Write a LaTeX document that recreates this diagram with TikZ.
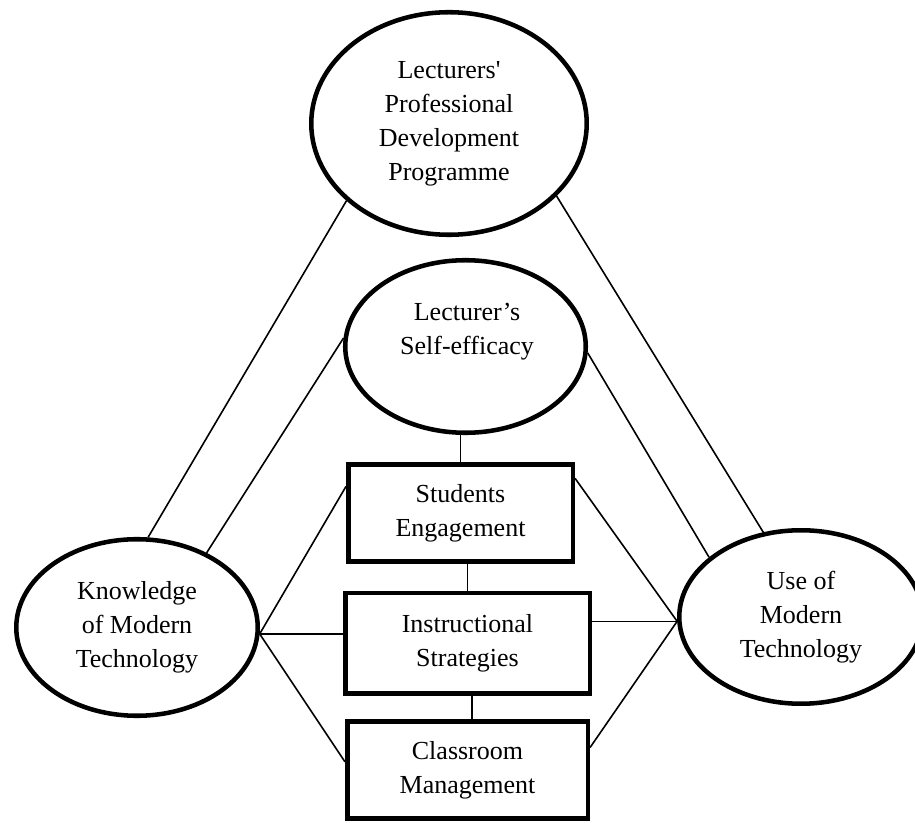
\documentclass[tikz,border=0pt]{standalone}
\usepackage{fontspec}
\setmainfont{Liberation Serif}
\usetikzlibrary{shapes.geometric,calc}
\begin{document}
\begin{tikzpicture}[x=0.75pt,y=-0.75pt,
  thickline/.style={line width=3.4pt},
  ell/.style={ellipse,draw,thickline,inner sep=0pt,align=center,
    font=\fontsize{19.5pt}{25.5pt}\selectfont},
  boxn/.style={rectangle,draw,thickline,inner sep=0pt,align=center,
    font=\fontsize{19.5pt}{25.5pt}\selectfont},
  txt/.style={inner sep=0pt,align=center,font=\fontsize{19.5pt}{25.5pt}\selectfont},
  conn/.style={line width=1.2pt}]
\useasboundingbox (0,0) rectangle (915,823);
\fill[white] (0,0) rectangle (915,823);
% ellipses
\node[ell,minimum width=206.6pt,minimum height=166.9pt] (T) at (449,123.5)
  {Lecturers\textquotesingle\\Professional\\Development\\Programme};
\node[ell,minimum width=180.4pt,minimum height=129.4pt] (S) at (465.5,346.5) {};
\node[txt] (Stxt) at (467,332) {Lecturer’s\\Self-efficacy};
\node[ell,minimum width=181.1pt,minimum height=132.4pt] (K) at (137,627.5)
  {Knowledge\\of Modern\\Technology};
\node[ell,minimum width=182.6pt,minimum height=130.1pt] (U) at (801,617)
  {Use of\\Modern\\Technology};
% boxes
\node[boxn,minimum width=168.4pt,minimum height=73.1pt] (seb) at (460.5,513)
  {Students\\Engagement};
\node[boxn,minimum width=183.4pt,minimum height=75.4pt] (isb) at (467.5,643.5)
  {Instructional\\Strategies};
\node[boxn,minimum width=180.4pt,minimum height=73.1pt] (cmb) at (467.5,770)
  {Classroom\\Management};
% connectors
\draw[conn] (T.217.4) -- (K.83.1);
\draw[conn] (S.176.9) -- (K.47.9);
\draw[conn] (T.326.7) -- (U.114.7);
\draw[conn] (S.357) -- (U.147.4);
\draw[conn] (seb.north) -- (seb.north |- S.south);
\draw[conn] (isb.north) -- (isb.north |- seb.south);
\draw[conn] ([xshift=3.4pt]cmb.north) -- ([xshift=3.4pt]cmb.north |- isb.south);
\draw[conn] (K.357.5) -- ($(seb.north west)!0.24!(seb.south west)$);
\draw[conn] (K.357.5) -- (K.357.5 -| isb.west);
\draw[conn] (K.357.5) -- ($(cmb.north west)!0.42!(cmb.south west)$);
\draw[conn] (U.182.8) -- ($(seb.north east)!0.16!(seb.south east)$);
\draw[conn] (U.182.8) -- (U.182.8 -| isb.east);
\draw[conn] (U.182.8) -- ($(cmb.north east)!0.28!(cmb.south east)$);
\end{tikzpicture}
\end{document}
